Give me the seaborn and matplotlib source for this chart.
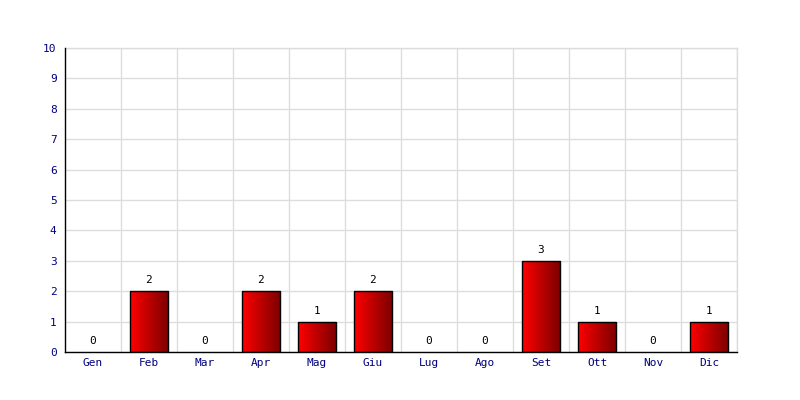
import matplotlib
matplotlib.use("Agg")
import matplotlib.pyplot as plt
import seaborn as sns
import numpy as np
import pandas as pd
from matplotlib.colors import LinearSegmentedColormap

months = ["Gen", "Feb", "Mar", "Apr", "Mag", "Giu", "Lug", "Ago", "Set", "Ott", "Nov", "Dic"]
values = [0, 2, 0, 2, 1, 2, 0, 0, 3, 1, 0, 1]
y_ticks = list(range(0, 11))

df = pd.DataFrame({"month": months, "value": values})

sns.set_style("white")
plt.rcParams["font.family"] = ["DejaVu Sans Mono", "DejaVu Sans"]

fig = plt.figure(figsize=(8, 4), dpi=100)
ax = fig.add_axes([65/800, 48/400, (737-65)/800, (352-48)/400])

sns.barplot(data=df, x="month", y="value", ax=ax, width=0.68,
            color="red", edgecolor="black", linewidth=1, zorder=3)

cmap = LinearSegmentedColormap.from_list("grad", ["#ff0000", "#7a0000"])
grad = np.linspace(0, 1, 256).reshape(1, -1)
for p in ax.patches:
    x0, y0 = p.get_x(), p.get_y()
    w, h = p.get_width(), p.get_height()
    if h <= 0:
        p.set_visible(False)
        continue
    im = ax.imshow(grad, cmap=cmap, aspect="auto", extent=[x0, x0 + w, y0, y0 + h],
                   zorder=2.5, interpolation="bicubic")
    im.set_clip_path(p)
    p.set_facecolor("none")

for i, v in enumerate(values):
    ax.text(i, v + 0.2, str(v), ha="center", va="bottom", fontsize=8, color="black", zorder=4)

ax.set_xlim(-0.5, len(months) - 0.5)
ax.set_ylim(0, 10)
ax.set_yticks(y_ticks)
ax.set_xticks(np.arange(len(months)) + 0.5, minor=True)
ax.grid(True, which="minor", axis="x", color="#dddddd", linewidth=1, zorder=0)
ax.grid(True, which="major", axis="y", color="#dddddd", linewidth=1, zorder=0)
ax.grid(False, which="major", axis="x")
ax.tick_params(axis="both", which="both", length=0, labelsize=8, labelcolor="#000080")
ax.tick_params(axis="y", pad=6)
ax.tick_params(axis="x", pad=4)
ax.set_xlabel("")
ax.set_ylabel("")
for s in ["top", "right"]:
    ax.spines[s].set_visible(True)
    ax.spines[s].set_color("#dddddd")
    ax.spines[s].set_linewidth(1)
for s in ["left", "bottom"]:
    ax.spines[s].set_color("black")
    ax.spines[s].set_linewidth(1)
    ax.spines[s].set_zorder(5)

fig.savefig("out.png", dpi=100)
